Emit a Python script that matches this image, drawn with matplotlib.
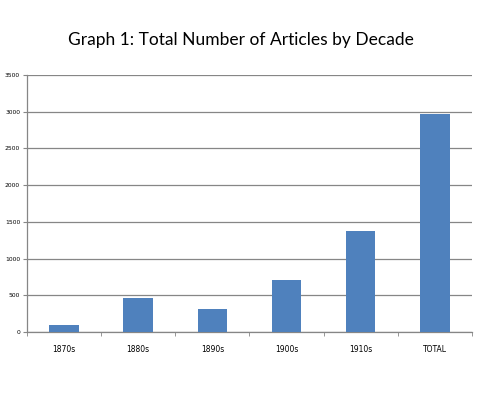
import matplotlib.pyplot as plt
import numpy as np

decades = ['1870s', '1880s', '1890s', '1900s', '1910s', 'TOTAL']
articles = [95, 460, 315, 710, 1380, 2975]
yticks = [0, 500, 1000, 1500, 2000, 2500, 3000, 3500]

fig = plt.figure(figsize=(4.91, 3.93), dpi=100)
ax = fig.add_axes([0.055, 0.155, 0.906, 0.654])

x = np.arange(len(decades))
ax.bar(x, articles, width=0.4, color='#4F81BD', zorder=3)

ax.set_xlim(-0.5, len(decades) - 0.5)
ax.set_ylim(0, 3500)
ax.set_yticks(yticks)
ax.set_yticklabels([str(v) for v in yticks], fontsize=4.3, family='DejaVu Sans')
ax.yaxis.grid(True, color='#868686', linewidth=0.9, zorder=0)

# category labels centred, tick marks on the boundaries
ax.set_xticks(x)
ax.set_xticklabels(decades, fontsize=5.5)
ax.tick_params(axis='x', length=0, pad=9)
ax.set_xticks(np.arange(-0.5, len(decades)), minor=True)
ax.tick_params(axis='x', which='minor', length=3, color='#868686', direction='out')
ax.tick_params(axis='y', length=3, color='#868686', pad=2)

for side in ['top', 'right']:
    ax.spines[side].set_visible(False)
for side in ['left', 'bottom']:
    ax.spines[side].set_color('#868686')
    ax.spines[side].set_linewidth(0.9)

fig.text(0.49, 0.885, 'Graph 1: Total Number of Articles by Decade',
         ha='center', fontsize=12.5, family='Lato')

fig.savefig('out.png', dpi=100)
